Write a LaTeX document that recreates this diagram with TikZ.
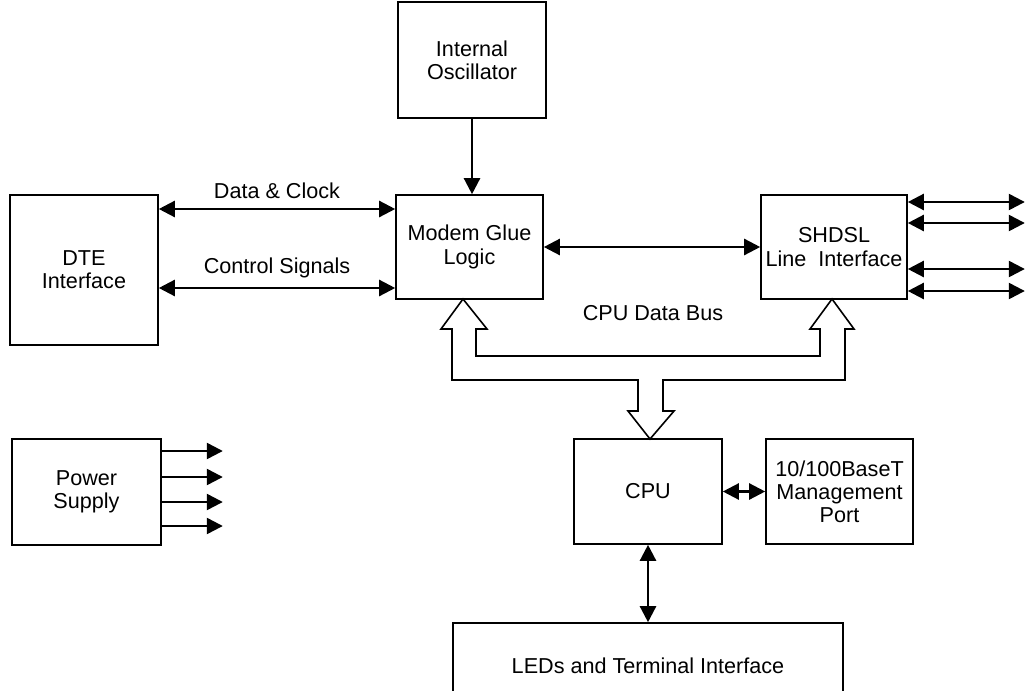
\documentclass[tikz,border=0pt]{standalone}
\usepackage{fontspec}
\setmainfont{Liberation Sans}
\usetikzlibrary{arrows.meta}

\begin{document}
\begin{tikzpicture}[x=0.5pt,y=-0.5pt,
    every node/.style={font=\fontsize{10.8pt}{11.6pt}\selectfont, align=center},
    block/.style={draw, line width=0.8pt, inner sep=0pt},
    link/.style={line width=1.2pt, {Triangle[length=8pt,width=8pt]}-{Triangle[length=8pt,width=8pt]}},
    feed/.style={line width=1.2pt, -{Triangle[length=8pt,width=8pt]}}]
    \useasboundingbox (0,0) rectangle (1026,690);
    \clip (0,0) rectangle (1026,690);

    % blocks
    \node[block, minimum width=74pt, minimum height=58pt] (osc) at (472,60) {Internal\\Oscillator};
    \node[block, minimum width=74pt, minimum height=75pt] (dte) at (84,270) {DTE\\Interface};
    \node[block, minimum width=73.5pt, minimum height=52pt] (glue) at (469.5,247) {Modem Glue\\Logic};
    \node[block, minimum width=73pt, minimum height=52pt] (shdsl) at (834,247) {SHDSL\\Line\ \ Interface};
    \node[block, minimum width=74pt, minimum height=52.5pt] (cpu) at (648,491.5) {CPU};
    \node[block, minimum width=73.5pt, minimum height=52.5pt] (mgmt) at (839.5,491.5) {10/100BaseT\\Management\\Port};
    \node[block, minimum width=195pt, minimum height=43pt] (leds) at (648,666) {LEDs and Terminal Interface};
    \node[block, minimum width=74.5pt, minimum height=53pt] (pwr) at (86.5,492) {Power\\Supply};

    % connectors
    \draw[feed] (osc.south) -- (osc.south |- glue.north);
    \draw[link] (dte.east |- 0,209) -- (glue.west |- 0,209) node[midway, above=1pt] (dclk) {Data \& Clock};
    \draw[link] (dte.east |- 0,288) -- (glue.west |- 0,288) node[midway, above=1pt] (ctrl) {Control Signals};
    \draw[link] (glue) -- (shdsl);
    \draw[link] (cpu) -- (mgmt);
    \draw[link] (cpu.south) -- (cpu.south |- leds.north);
    \foreach \y in {202,223,269,291}
        \draw[link] (shdsl.east |- 0,\y) -- ++(117,0);
    \foreach \y in {451,477,502,526}
        \draw[feed] (pwr.east |- 0,\y) -- ++(61,0);

    % data bus
    \draw[line width=0.8pt, line join=miter]
        (463,299) -- (487,329) -- (476,329) -- (476,356) -- (820,356) -- (820,329)
        -- (810,329) -- (832,299) -- (854,329) -- (845,329) -- (845,380) -- (663,380)
        -- (663,411) -- (674,411) -- (650,439) -- (628,411) -- (638,411) -- (638,380)
        -- (452,380) -- (452,329) -- (441,329) -- cycle;
    \node (bus) at (653,313) {CPU Data Bus};
\end{tikzpicture}
\end{document}
